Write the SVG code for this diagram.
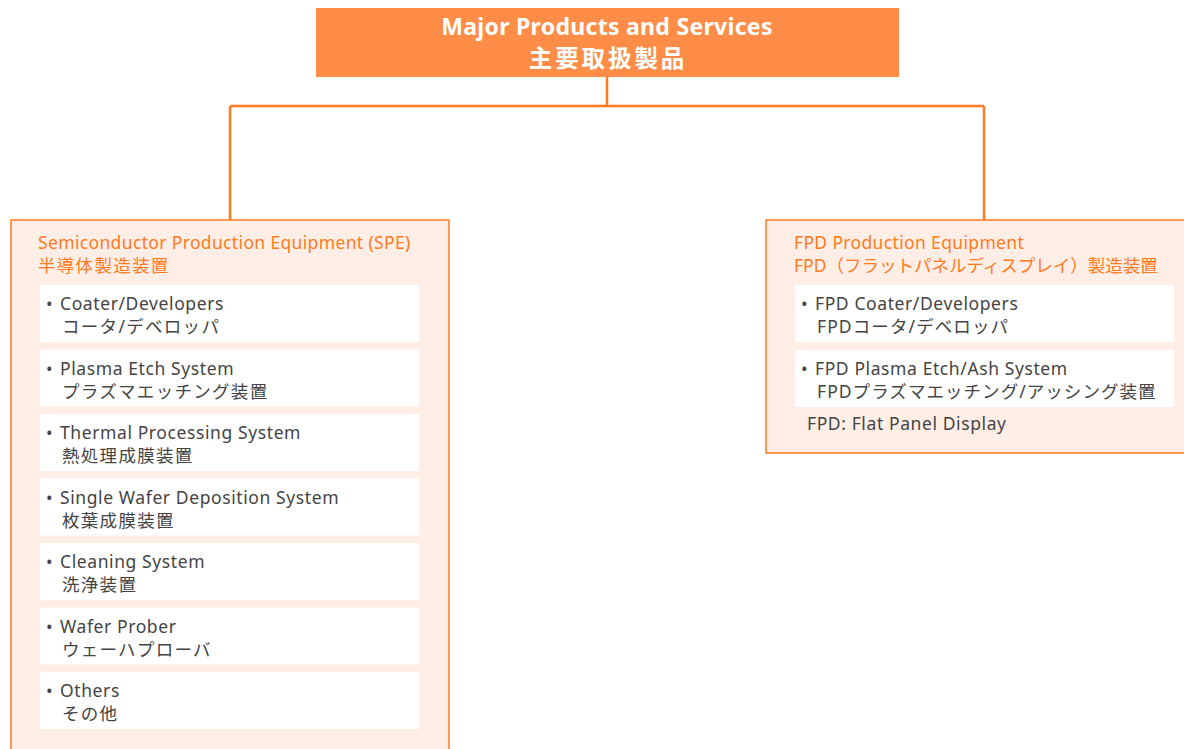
<svg xmlns="http://www.w3.org/2000/svg" width="1184" height="749" viewBox="0 0 1184 749">
<style>
.t{font-family:"Noto Sans","Noto Sans CJK JP",sans-serif;}
.top{fill:#ff8c47;}
.tt{fill:#fff;font-weight:bold;font-size:23px;text-anchor:middle;letter-spacing:0.3px;}
.tj{font-size:23.5px;letter-spacing:2.9px;}
.grp{fill:#ffeee6;stroke:#ff7a21;stroke-width:1.5;}
.gt{fill:#ff7a21;font-size:17.5px;letter-spacing:0.35px;}
.gj{letter-spacing:1.3px;}
.item{fill:#fff;}
.it{fill:#444;font-size:17.5px;letter-spacing:0.6px;}
.ja{letter-spacing:1.3px;}
.conn{fill:none;stroke:#ff7a21;stroke-width:2.5;}
</style>
<rect width="1184" height="749" fill="#fff"/>
<g id="connectors">
<path class="conn" d="M607 77V106M230 106H984M230 106V221M984 106V221"/>
</g>
<g id="root">
<rect class="top" x="316" y="8" width="583" height="69"/>
<text class="t tt" x="607" y="35">Major Products and Services</text>
<text class="t tt tj" x="608" y="67">主要取扱製品</text>
</g>
<g id="spe">
<rect class="grp" x="11" y="220" width="438" height="540"/>
<text class="t gt" x="38" y="249">Semiconductor Production Equipment (SPE)</text>
<text class="t gt gj" x="38" y="272">半導体製造装置</text>
<g id="spe1"><rect class="item" x="40" y="285" width="379" height="57"/><text class="t it" y="310"><tspan x="46">•</tspan><tspan x="60">Coater/Developers</tspan></text><text class="t it ja" x="62" y="333">コータ/デベロッパ</text></g>
<g id="spe2"><rect class="item" x="40" y="349.5" width="379" height="57"/><text class="t it" y="374.5"><tspan x="46">•</tspan><tspan x="60">Plasma Etch System</tspan></text><text class="t it ja" x="62" y="397.5">プラズマエッチング装置</text></g>
<g id="spe3"><rect class="item" x="40" y="414" width="379" height="57"/><text class="t it" y="439"><tspan x="46">•</tspan><tspan x="60">Thermal Processing System</tspan></text><text class="t it ja" x="62" y="462">熱処理成膜装置</text></g>
<g id="spe4"><rect class="item" x="40" y="478.5" width="379" height="57"/><text class="t it" y="503.5"><tspan x="46">•</tspan><tspan x="60">Single Wafer Deposition System</tspan></text><text class="t it ja" x="62" y="526.5">枚葉成膜装置</text></g>
<g id="spe5"><rect class="item" x="40" y="543" width="379" height="57"/><text class="t it" y="568"><tspan x="46">•</tspan><tspan x="60">Cleaning System</tspan></text><text class="t it ja" x="62" y="591">洗浄装置</text></g>
<g id="spe6"><rect class="item" x="40" y="607.5" width="379" height="57"/><text class="t it" y="632.5"><tspan x="46">•</tspan><tspan x="60">Wafer Prober</tspan></text><text class="t it ja" x="62" y="655.5">ウェーハプローバ</text></g>
<g id="spe7"><rect class="item" x="40" y="672" width="379" height="57"/><text class="t it" y="697"><tspan x="46">•</tspan><tspan x="60">Others</tspan></text><text class="t it ja" x="62" y="720">その他</text></g>
</g>
<g id="fpd">
<rect class="grp" x="766" y="220" width="430" height="233"/>
<text class="t gt" x="794" y="249">FPD Production Equipment</text>
<text class="t gt" x="794" y="272" style="letter-spacing:0">FPD（フラットパネルディスプレイ）製造装置</text>
<g id="fpd1"><rect class="item" x="795" y="285" width="379" height="57"/><text class="t it" y="310"><tspan x="801">•</tspan><tspan x="815">FPD Coater/Developers</tspan></text><text class="t it" x="817" y="333" style="letter-spacing:1.1px">FPDコータ/デベロッパ</text></g>
<g id="fpd2"><rect class="item" x="795" y="350" width="379" height="57"/><text class="t it" y="375"><tspan x="801">•</tspan><tspan x="815">FPD Plasma Etch/Ash System</tspan></text><text class="t it" x="817" y="398" style="letter-spacing:1.05px">FPDプラズマエッチング/アッシング装置</text></g>
<text class="t it" x="807" y="430">FPD: Flat Panel Display</text>
</g>
</svg>
